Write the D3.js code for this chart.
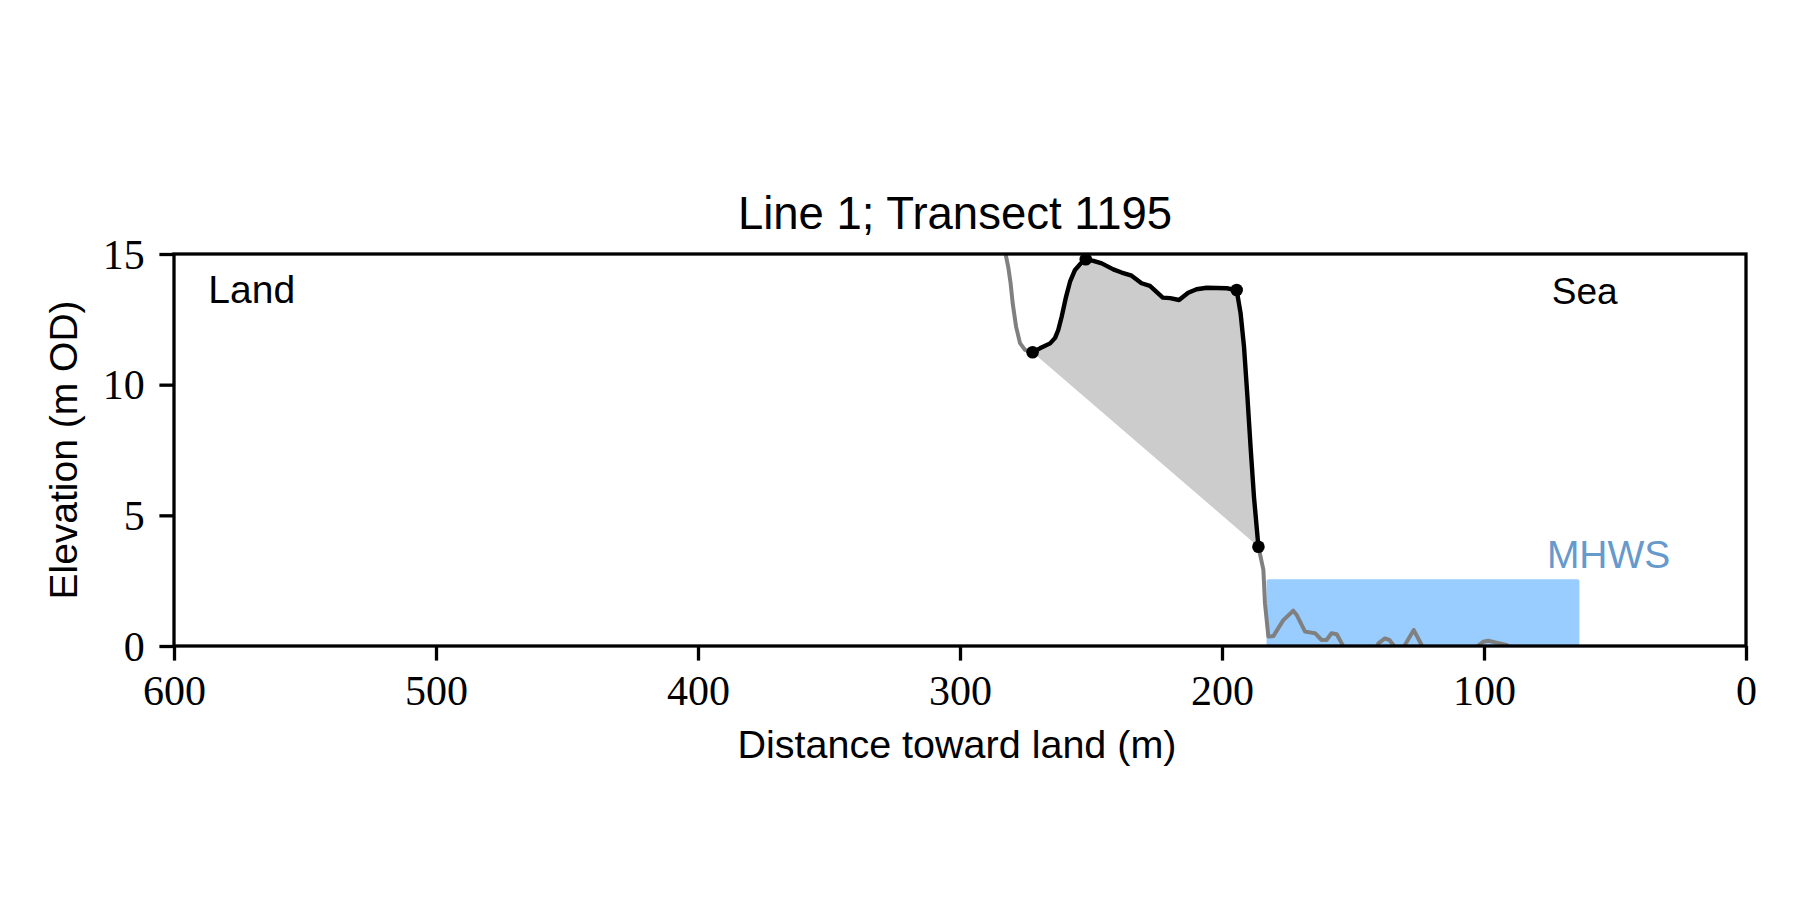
<!DOCTYPE html>
<html><head><meta charset="utf-8">
<script src="https://cdn.jsdelivr.net/npm/d3@7"></script>
<style>body{margin:0;background:#fff} svg{display:block}</style>
</head><body>
<svg id="chart" width="1800" height="900"></svg>
<script>
// ---- data ----
const chartTitle = "Line 1; Transect 1195";
const xLabel = "Distance toward land (m)";
const yLabel = "Elevation (m OD)";
const xTicks = [600, 500, 400, 300, 200, 100, 0];
const yTicks = [0, 5, 10, 15];

// landward part of profile (grey)
const landDist = [283.4, 282.6, 281.6, 280.7, 279.9, 278.6, 277.1, 275.2, 272.3];
const landElev = [15.4, 15.0, 14.51, 13.89, 13.12, 12.22, 11.59, 11.33, 11.24];

// cliff section (black)
const cliffDist = [272.3, 269.5, 265.6, 263.7, 262.5, 261.2, 259.5, 258.0, 256.1, 253.9, 252.0,
  249.1, 245.9, 241.5, 238.3, 234.5, 230.7, 227.5, 222.6, 219.8, 216.4, 212.9, 209.7, 205.8,
  202.0, 198.2, 194.4, 192.9, 191.6, 190.3, 189.1, 187.8, 186.1];
const cliffElev = [11.24, 11.39, 11.58, 11.79, 12.09, 12.60, 13.37, 13.94, 14.39, 14.64, 14.80,
  14.74, 14.64, 14.41, 14.29, 14.17, 13.88, 13.78, 13.33, 13.31, 13.24, 13.52, 13.65, 13.71,
  13.70, 13.69, 13.62, 12.73, 11.45, 9.54, 7.63, 5.71, 3.80];

// seaward part of profile (grey)
const seaDist = [186.1, 184.2, 183.6, 182.3, 180.4, 176.6, 172.8, 171.5, 168.3, 164.5, 162.0,
  160.1, 158.2, 156.2, 154.3, 153.0, 147.3, 141.5, 140.3, 137.8, 136.1, 134.6, 133.2, 130.9,
  130.2, 126.8, 123.8, 122.5, 113.0, 105.3, 100.3, 98.4, 95.2, 91.4, 88.2, 78.6, 63.4];
const seaElev = [3.80, 2.91, 1.63, 0.36, 0.38, 0.99, 1.35, 1.19, 0.55, 0.49, 0.23,
  0.23, 0.49, 0.45, 0.10, -0.15, -0.35, -0.15, 0.10, 0.29, 0.23, 0.04, -0.15, -0.15,
  0.04, 0.61, 0.04, -0.23, -0.35, -0.23, 0.16, 0.20, 0.13, 0.04, -0.15, -0.23, -0.15];

// key points (cliff toe/top markers)
const keyDist = [272.3, 252.0, 194.4, 186.1];
const keyElev = [11.24, 14.80, 13.62, 3.80];

// MHWS
const mhwsLevel = 2.55;
const mhwsFrom = 183.0;
const mhwsTo = 63.6;
const mhwsLabel = "MHWS";
const landLabel = "Land";
const seaLabel = "Sea";

// ---- layout ----
const L = 174, R = 1746, T = 254, B = 646;
const svg = d3.select("#chart");
const x = d3.scaleLinear().domain([600, 0]).range([L, R]);
const y = d3.scaleLinear().domain([0, 15]).range([B, T]);

const sans = "'Liberation Sans', Arial, sans-serif";
const serif = "'Liberation Serif', 'Times New Roman', serif";

svg.append("defs").append("clipPath").attr("id", "clip")
  .append("rect").attr("x", L).attr("y", T).attr("width", R - L).attr("height", B - T);

const plot = svg.append("g").attr("clip-path", "url(#clip)");

const zip = (xs, ys) => xs.map((d, i) => [d, ys[i]]);
const line = d3.line().x(d => x(d[0])).y(d => y(d[1]));

// grey fill between cliff profile and straight toe-top line
plot.append("path")
  .attr("d", line(zip(cliffDist, cliffElev)) + "Z")
  .attr("fill", "#cccccc").attr("stroke", "none");

// MHWS box
plot.append("rect")
  .attr("x", x(mhwsFrom)).attr("y", y(mhwsLevel))
  .attr("width", x(mhwsTo) - x(mhwsFrom)).attr("height", y(0) - y(mhwsLevel))
  .attr("rx", 2).attr("fill", "#99ccff");

// grey profile lines
[[landDist, landElev], [seaDist, seaElev]].forEach(([dx, dy]) => {
  plot.append("path").attr("d", line(zip(dx, dy)))
    .attr("fill", "none").attr("stroke", "#808080").attr("stroke-width", 4.0)
    .attr("stroke-linejoin", "round").attr("stroke-linecap", "butt");
});

// black cliff line
plot.append("path").attr("d", line(zip(cliffDist, cliffElev)))
  .attr("fill", "none").attr("stroke", "#000").attr("stroke-width", 4.4)
  .attr("stroke-linejoin", "round");

// markers
svg.append("g").selectAll("circle").data(zip(keyDist, keyElev)).join("circle")
  .attr("cx", d => x(d[0])).attr("cy", d => y(d[1])).attr("r", 6.3).attr("fill", "#000");

// texts inside
svg.append("text").attr("x", x(586.9)).attr("y", 303).text(landLabel)
  .attr("font-family", sans).attr("font-size", 39).attr("fill", "#000");
svg.append("text").attr("x", x(49.0)).attr("y", 304).attr("text-anchor", "end").text(seaLabel)
  .attr("font-family", sans).attr("font-size", 37).attr("fill", "#000");
svg.append("text").attr("x", x(76.0)).attr("y", y(3.0)).text(mhwsLabel)
  .attr("font-family", sans).attr("font-size", 39).attr("fill", "#6699cc");

// axes
const lw = 3.3, tl = 14.6;
const xAxis = svg.append("g").attr("transform", `translate(0,${B})`)
  .call(d3.axisBottom(x).tickValues(xTicks).tickSize(tl).tickSizeOuter(0).tickPadding(14.6).tickFormat(d3.format("d")));
const yAxis = svg.append("g").attr("transform", `translate(${L},0)`)
  .call(d3.axisLeft(y).tickValues(yTicks).tickSize(tl).tickSizeOuter(0).tickPadding(14.6).tickFormat(d3.format("d")));
[xAxis, yAxis].forEach(a => {
  a.select(".domain").remove();
  a.selectAll(".tick line").attr("stroke", "#000").attr("stroke-width", lw);
  a.selectAll(".tick text").attr("font-family", serif).attr("font-size", 42).attr("fill", "#000");
});
xAxis.selectAll(".tick text").attr("dy", "0.70em");
yAxis.selectAll(".tick text").attr("dy", "0.34em");

// frame
svg.append("rect").attr("x", L).attr("y", T).attr("width", R - L).attr("height", B - T)
  .attr("fill", "none").attr("stroke", "#000").attr("stroke-width", lw);

// title and labels
svg.append("text").attr("x", (L + R) / 2 - 5).attr("y", 229).attr("text-anchor", "middle")
  .text(chartTitle).attr("font-family", sans).attr("font-size", 45.5).attr("fill", "#000");
svg.append("text").attr("x", (L + R) / 2 - 3).attr("y", 758).attr("text-anchor", "middle")
  .text(xLabel).attr("font-family", sans).attr("font-size", 39.5).attr("fill", "#000");
svg.append("text").attr("transform", `translate(77,${(T + B) / 2}) rotate(-90)`).attr("text-anchor", "middle")
  .text(yLabel).attr("font-family", sans).attr("font-size", 39).attr("fill", "#000");
</script>
</body></html>
